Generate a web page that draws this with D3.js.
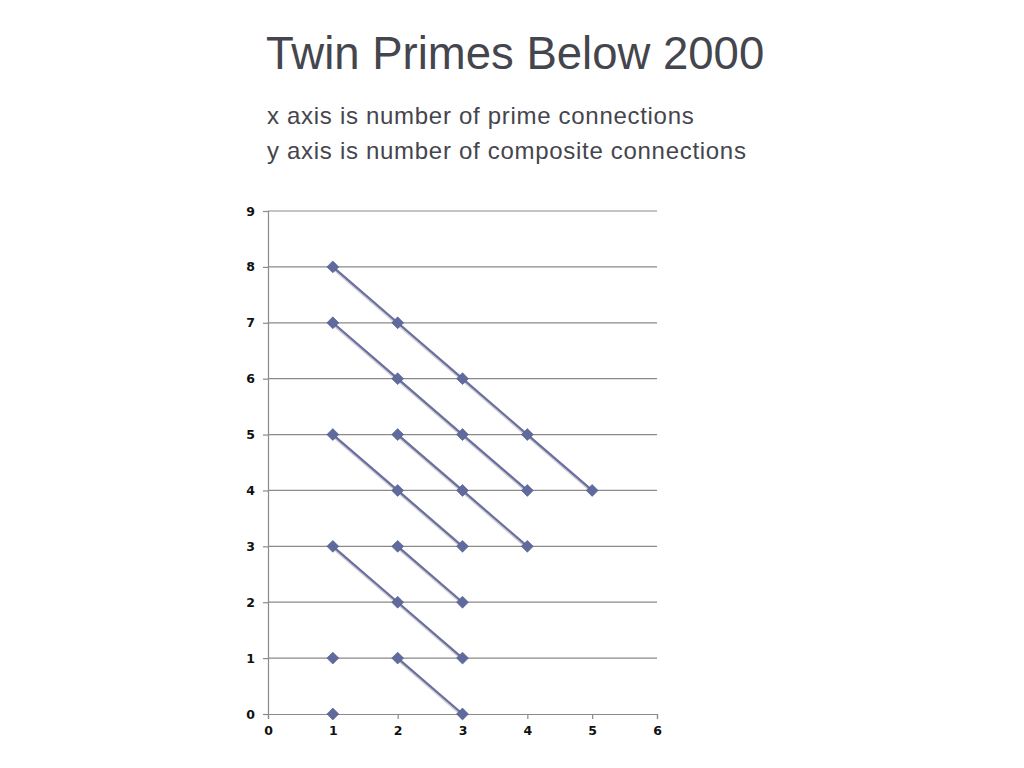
<!DOCTYPE html>
<html>
<head>
<meta charset="utf-8">
<script src="https://cdn.jsdelivr.net/npm/d3@7"></script>
<style>
  body { margin: 0; background: #fff; }
  svg { display: block; }
</style>
</head>
<body>
<svg id="chart" width="1024" height="768"></svg>
<script>
'use strict';

const title = "Twin Primes Below 2000";
const subtitle = ["x axis is number of prime connections", "y axis is number of composite connections"];

const xTicks = [0, 1, 2, 3, 4, 5, 6];
const yTicks = [0, 1, 2, 3, 4, 5, 6, 7, 8, 9];

// each series: [prime connections, composite connections]
const seriesA = [[1, 8], [2, 7], [3, 6], [4, 5], [5, 4]];
const seriesB = [[1, 7], [2, 6], [3, 5], [4, 4]];
const seriesC = [[2, 5], [3, 4], [4, 3]];
const seriesD = [[1, 5], [2, 4], [3, 3]];
const seriesE = [[1, 3], [2, 2], [3, 1]];
const seriesF = [[2, 3], [3, 2]];
const seriesG = [[2, 1], [3, 0]];
const seriesH = [[1, 1]];
const seriesI = [[1, 0]];

const allSeries = [seriesA, seriesB, seriesC, seriesD, seriesE, seriesF, seriesG, seriesH, seriesI];

const lineColor = "#6a6f9f";
const markColor = "#606a9c";

const svg = d3.select("#chart");

svg.append("text")
  .attr("x", 266).attr("y", 69)
  .attr("font-family", "Liberation Sans, Arial, sans-serif")
  .attr("font-size", 45.5)
  .attr("fill", "#45454d")
  .text(title);

svg.selectAll("text.sub")
  .data(subtitle)
  .enter()
  .append("text")
  .attr("class", "sub")
  .attr("x", 267)
  .attr("y", (d, i) => 124 + i * 35)
  .attr("font-family", "Liberation Sans, Arial, sans-serif")
  .attr("font-size", 24)
  .attr("letter-spacing", 0.7)
  .attr("fill", "#45454d")
  .text(d => d);

const x = d3.scaleLinear().domain([0, 6]).range([268, 657]);
const y = d3.scaleLinear().domain([0, 9]).range([714, 211]);

// gridlines
svg.append("g")
  .selectAll("line")
  .data(yTicks.filter(d => d > 0))
  .enter()
  .append("line")
  .attr("x1", x(0)).attr("x2", x(6))
  .attr("y1", d => y(d)).attr("y2", d => y(d))
  .attr("stroke", "#8a8a8a")
  .attr("stroke-width", 1.2);

const tickFont = "DejaVu Sans, sans-serif";

const xAxis = svg.append("g")
  .attr("transform", `translate(0,${y(0)})`)
  .call(d3.axisBottom(x).tickValues(xTicks).tickSize(5).tickPadding(7).tickFormat(d3.format("d")));

const yAxis = svg.append("g")
  .attr("transform", `translate(${x(0)},0)`)
  .call(d3.axisLeft(y).tickValues(yTicks).tickSize(5).tickPadding(8).tickFormat(d3.format("d")));

[xAxis, yAxis].forEach(a => {
  a.select(".domain").attr("stroke", "#8a8a8a").attr("stroke-width", 1.2);
  a.selectAll(".tick line").attr("stroke", "#8a8a8a").attr("stroke-width", 1.2);
  a.selectAll(".tick text")
    .attr("font-family", tickFont)
    .attr("font-weight", "bold")
    .attr("font-size", 12.5)
    .attr("fill", "#111");
});

const line = d3.line()
  .x(d => x(d[0]))
  .y(d => y(d[1]));

// soft shadow under the lines
svg.append("g")
  .selectAll("path")
  .data(allSeries.filter(s => s.length > 1))
  .enter()
  .append("path")
  .attr("d", line)
  .attr("transform", "translate(2,3)")
  .attr("fill", "none")
  .attr("stroke", "#bdbdc4")
  .attr("stroke-width", 3)
  .attr("opacity", 0.7);

svg.append("g")
  .selectAll("path")
  .data(allSeries.filter(s => s.length > 1))
  .enter()
  .append("path")
  .attr("d", line)
  .attr("fill", "none")
  .attr("stroke", lineColor)
  .attr("stroke-width", 2.2);

const diamond = d3.symbol().type(d3.symbolDiamond2).size(90);

svg.append("g")
  .selectAll("path")
  .data(allSeries.flat())
  .enter()
  .append("path")
  .attr("d", diamond)
  .attr("transform", d => `translate(${x(d[0])},${y(d[1])})`)
  .attr("fill", markColor)
  .attr("stroke", "#4e5788")
  .attr("stroke-width", 0.6);
</script>
</body>
</html>
